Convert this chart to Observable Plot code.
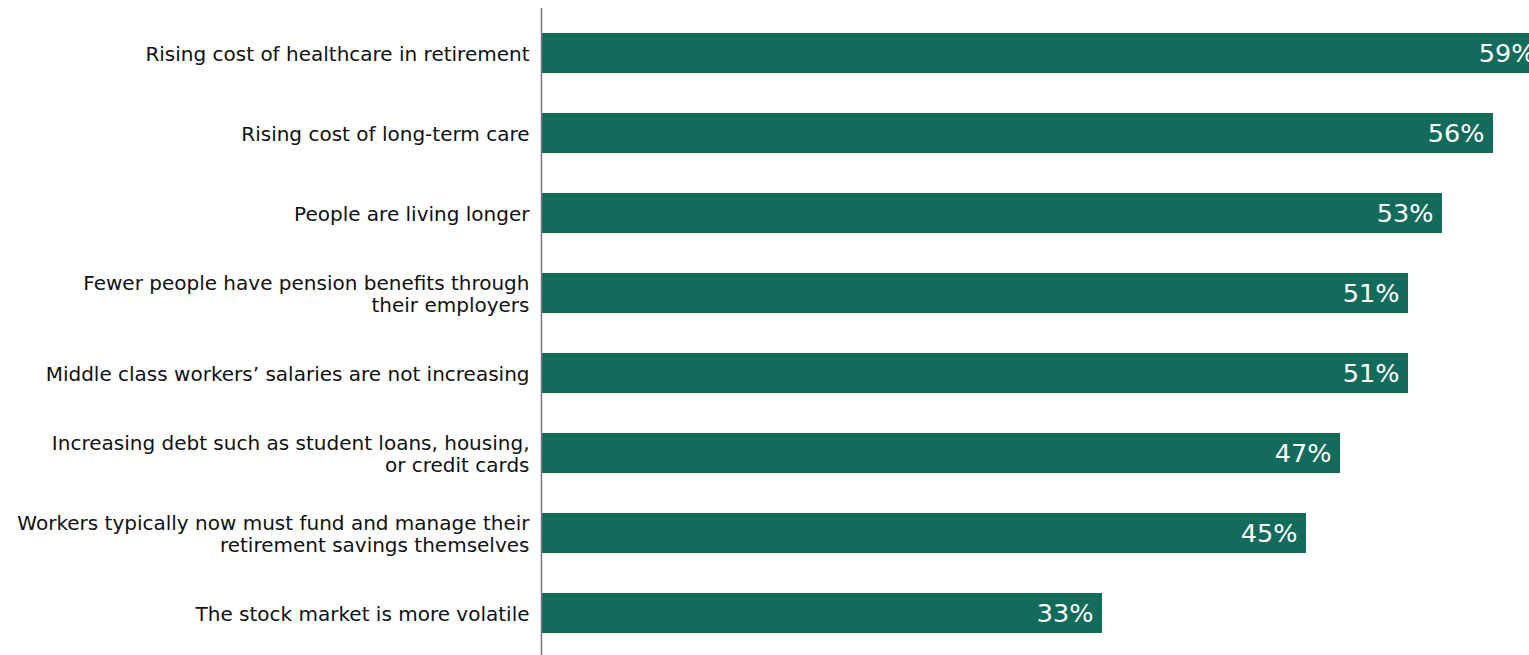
<!DOCTYPE html>
<html>
<head>
<meta charset="utf-8">
<script src="https://cdn.jsdelivr.net/npm/d3@7"></script>
<script src="https://cdn.jsdelivr.net/npm/@observablehq/plot@0.6"></script>
<style>
  html, body { margin: 0; padding: 0; background: #fff; overflow: hidden; }
  #chart svg { display: block; }
</style>
</head>
<body>
<div id="chart"></div>
<script>
const categories = [
  "Rising cost of healthcare in retirement",
  "Rising cost of long-term care",
  "People are living longer",
  "Fewer people have pension benefits through\ntheir employers",
  "Middle class workers’ salaries are not increasing",
  "Increasing debt such as student loans, housing,\nor credit cards",
  "Workers typically now must fund and manage their\nretirement savings themselves",
  "The stock market is more volatile"
];
const values = [59, 56, 53, 51, 51, 47, 45, 33];

const data = categories.map((c, i) => ({category: c, value: values[i]}));

const chart = Plot.plot({
  width: 1529,
  height: 655,
  marginTop: 8,
  marginBottom: 0,
  marginLeft: 541,
  marginRight: 0,
  style: {fontFamily: "'DejaVu Sans', sans-serif", background: "#fff"},
  x: {domain: [0, 59], range: [541, 1544], axis: null},
  y: {domain: categories, range: [12, 654], paddingInner: 0.5, paddingOuter: 0.25, axis: null},
  marks: [
    Plot.barX(data, {x: "value", y: "category", fill: "#136b5b"}),
    Plot.ruleX([0], {stroke: "#777", strokeWidth: 1.5}),
    Plot.text(data, {
      x: 0, y: "category", text: "category",
      textAnchor: "end", dx: -12, fontSize: 20, lineHeight: 1.1,
      fill: "#111"
    }),
    Plot.text(data, {
      x: "value", y: "category", text: d => d.value + "%",
      textAnchor: "end", dx: -9, fontSize: 25.5, fill: "#fff", fontWeight: 500
    })
  ]
});
document.getElementById("chart").appendChild(chart);
</script>
</body>
</html>
